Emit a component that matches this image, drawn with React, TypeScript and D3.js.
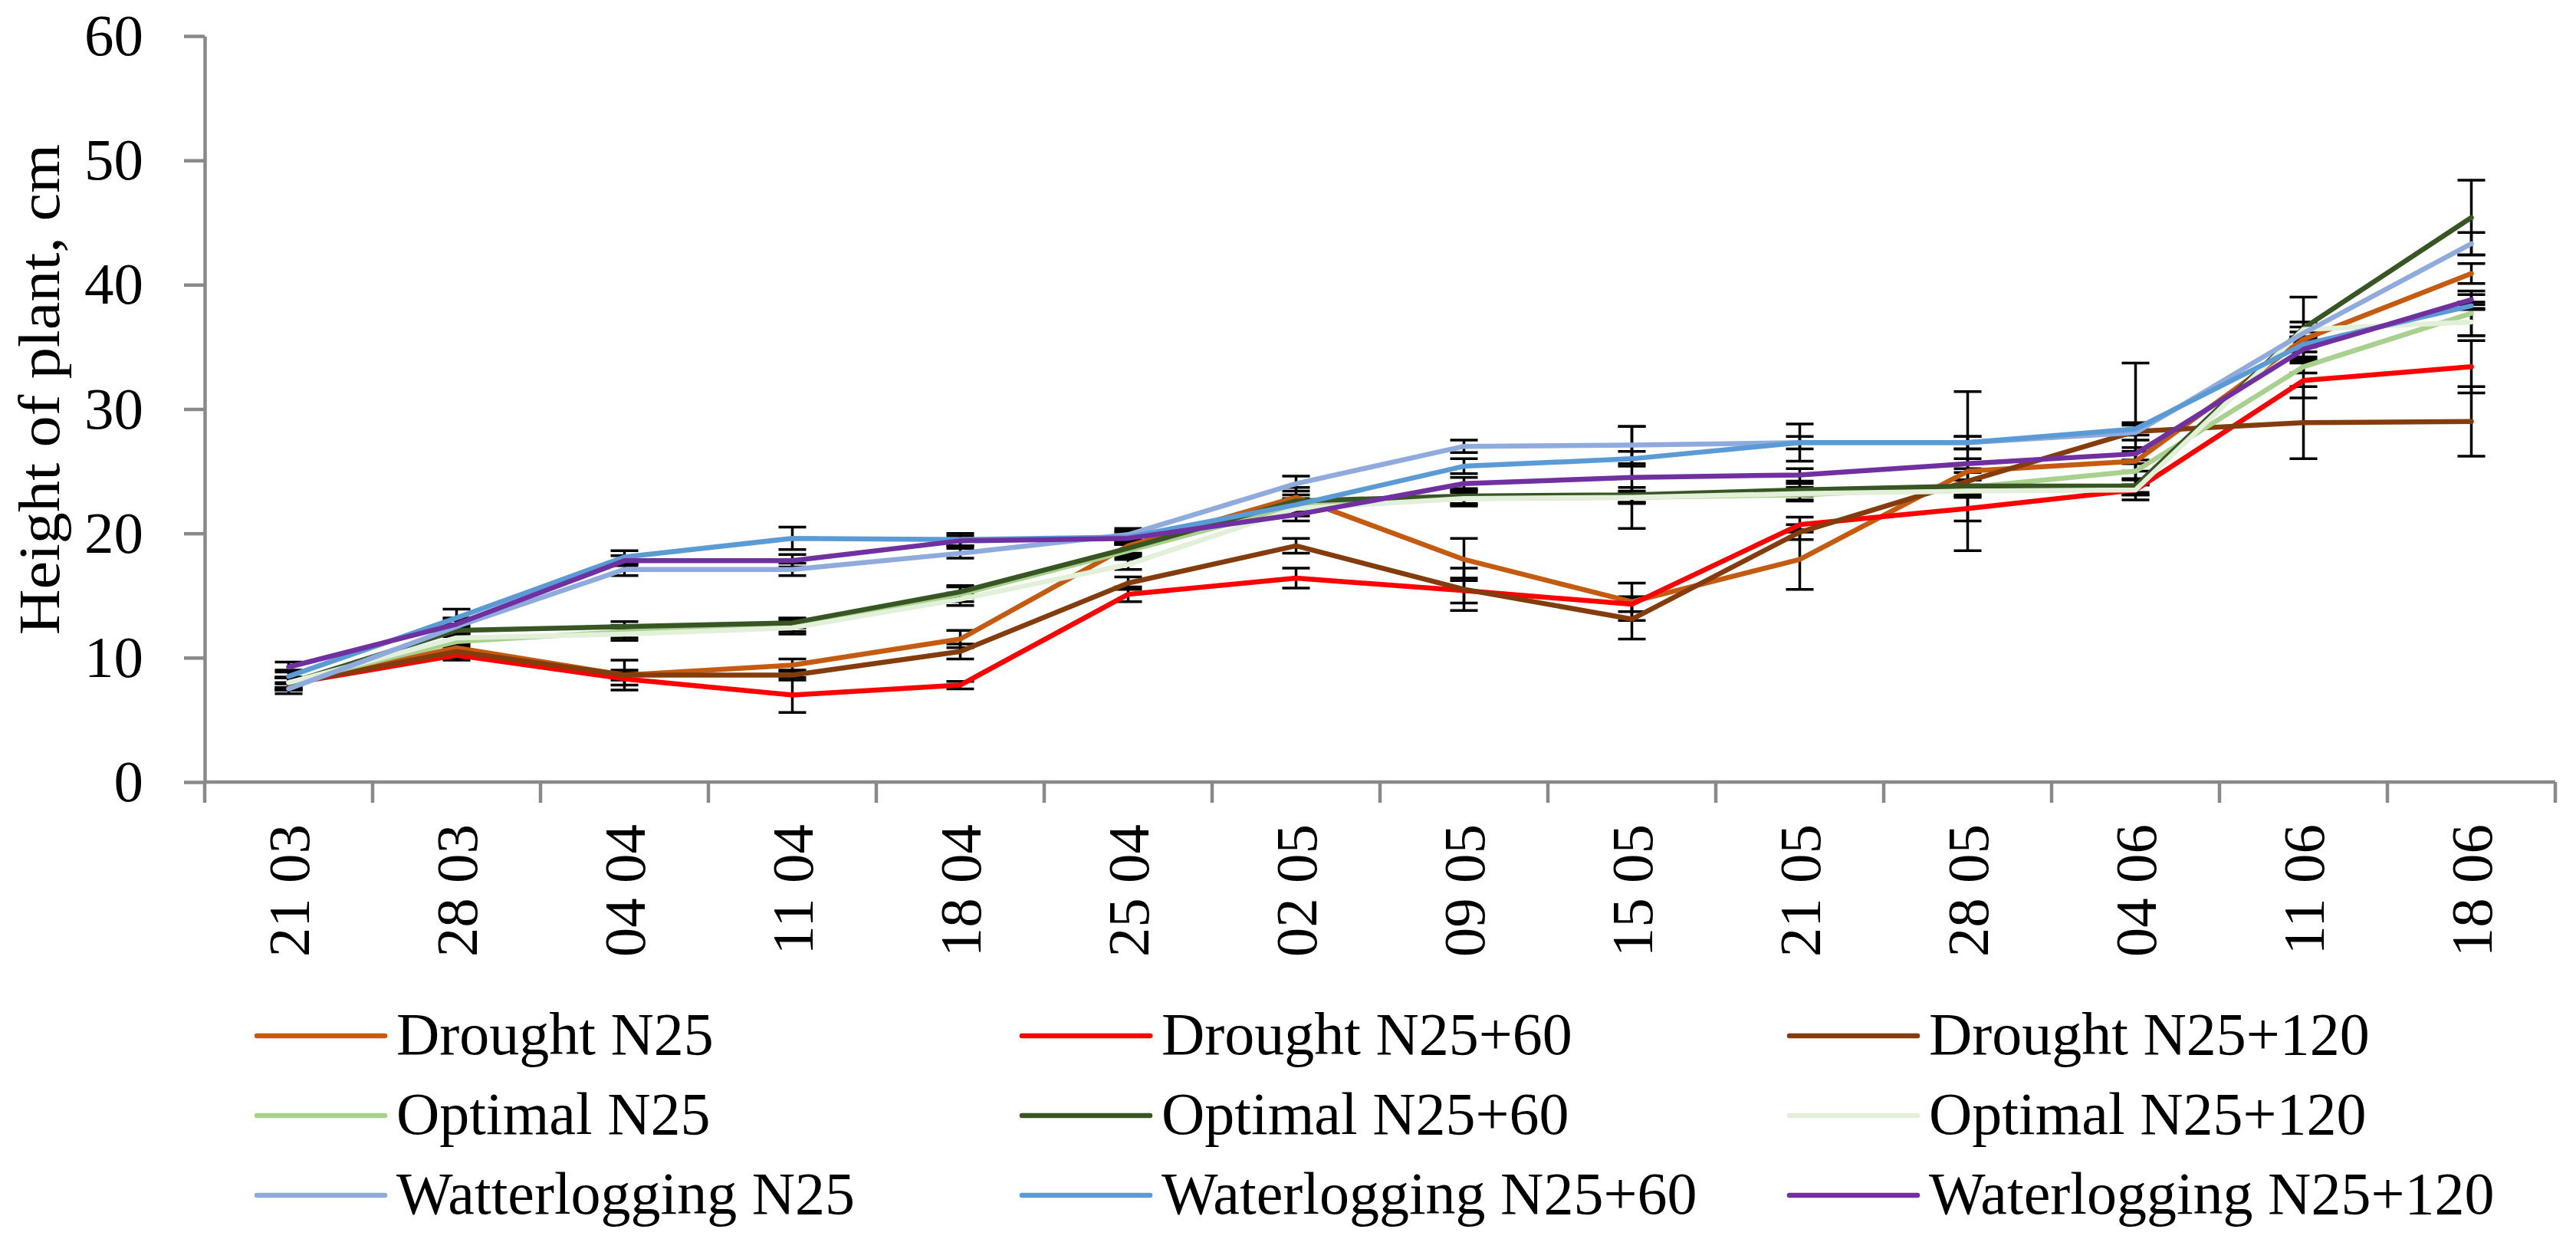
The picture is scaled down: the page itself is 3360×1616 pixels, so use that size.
import { useEffect, useRef } from "react";
import * as d3 from "d3";

const categories = [
  "21 03", "28 03", "04 04", "11 04", "18 04", "25 04", "02 05",
  "09 05", "15 05", "21 05", "28 05", "04 06", "11 06", "18 06",
];

const yTicks = [0, 10, 20, 30, 40, 50, 60];

const seriesNames = [
  "Drought N25", "Drought N25+60", "Drought N25+120",
  "Optimal N25", "Optimal N25+60", "Optimal N25+120",
  "Watterlogging N25", "Waterlogging N25+60", "Waterlogging N25+120",
];

const seriesColors = [
  "#C55A11", "#FF0000", "#843C0C",
  "#A9D18E", "#375623", "#E2F0D9",
  "#8FAADC", "#5B9BD5", "#7030A0",
];

// plant heights, cm
const droughtN25 = [7.9, 10.8, 8.6, 9.4, 11.5, 19.0, 22.9, 17.9, 14.5, 17.9, 25.0, 25.8, 35.6, 40.9];
const droughtN25_60 = [7.9, 10.2, 8.3, 7.0, 7.8, 15.1, 16.4, 15.4, 14.3, 20.7, 22.0, 23.5, 32.3, 33.4];
const droughtN25_120 = [7.9, 10.5, 8.6, 8.6, 10.5, 16.0, 19.0, 15.5, 13.1, 20.1, 24.2, 28.2, 28.9, 29.0];
const optimalN25 = [8.0, 11.3, 12.1, 12.6, 15.1, 18.6, 22.2, 22.8, 22.9, 23.1, 23.7, 25.0, 33.4, 37.7];
const optimalN25_60 = [7.95, 12.2, 12.5, 12.8, 15.3, 18.8, 22.6, 23.0, 23.1, 23.5, 23.8, 23.8, 36.5, 45.4];
const optimalN25_120 = [8.0, 11.6, 11.9, 12.4, 14.7, 17.5, 22.0, 22.8, 22.9, 23.2, 23.4, 23.5, 36.4, 37.0];
const waterN25 = [7.5, 12.5, 17.1, 17.1, 18.4, 19.9, 24.0, 27.0, 27.1, 27.3, 27.3, 28.1, 36.1, 43.3];
const waterN25_60 = [8.5, 13.2, 18.1, 19.6, 19.5, 19.7, 22.3, 25.4, 26.0, 27.3, 27.3, 28.4, 35.2, 38.3];
const waterN25_120 = [9.25, 12.7, 17.8, 17.8, 19.4, 19.6, 21.5, 24.0, 24.5, 24.7, 25.6, 26.4, 34.8, 38.8];

// error bar half-widths
const errDroughtN25 = [0.5, 0.6, 1.2, 0.5, 0.7, 0.6, 0.8, 1.7, 1.5, 2.4, 6.4, 0.8, 0.6, 0.8];
const errDroughtN25_60 = [0.5, 0.4, 0.5, 1.4, 0.3, 0.6, 0.8, 1.0, 0.6, 0.6, 1.0, 0.4, 1.4, 2.1];
const errDroughtN25_120 = [0.5, 0.5, 0.4, 0.4, 0.6, 0.5, 0.6, 1.7, 1.6, 0.6, 0.7, 5.5, 2.9, 2.8];
const errOptimalN25 = [0.4, 0.5, 0.5, 0.5, 0.6, 0.5, 0.5, 0.6, 0.5, 0.5, 0.6, 0.6, 0.5, 1.8];
const errOptimalN25_60 = [0.5, 0.5, 0.4, 0.4, 0.5, 0.5, 0.5, 0.6, 0.6, 0.5, 0.5, 0.5, 2.5, 3.0];
const errOptimalN25_120 = [0.4, 0.4, 0.5, 0.5, 0.5, 0.4, 0.6, 0.5, 0.4, 0.5, 0.5, 0.4, 0.6, 1.1];
const errWaterN25 = [0.4, 0.5, 0.5, 0.5, 0.4, 0.5, 0.6, 0.5, 1.5, 1.5, 0.5, 0.6, 0.5, 0.9];
const errWaterN25_60 = [0.5, 0.7, 0.5, 0.9, 0.5, 0.5, 0.5, 0.6, 0.6, 0.5, 0.5, 0.5, 0.6, 0.3];
const errWaterN25_120 = [0.4, 0.5, 0.4, 0.5, 0.4, 0.5, 0.5, 0.5, 4.1, 0.5, 0.4, 0.5, 0.6, 0.4];

const seriesValues = [
  droughtN25, droughtN25_60, droughtN25_120,
  optimalN25, optimalN25_60, optimalN25_120,
  waterN25, waterN25_60, waterN25_120,
];
const seriesErrors = [
  errDroughtN25, errDroughtN25_60, errDroughtN25_120,
  errOptimalN25, errOptimalN25_60, errOptimalN25_120,
  errWaterN25, errWaterN25_60, errWaterN25_120,
];

const FONT = "'Palatino Linotype', 'Book Antiqua', Palatino, 'Liberation Serif', serif";
const AXIS = "#898989";

export default function App() {
  const ref = useRef<SVGSVGElement>(null);

  useEffect(() => {
    const width = 3360;
    const height = 1616;
    const svg = d3.select(ref.current).attr("width", width).attr("height", height);
    svg.selectAll("*").remove();

    const left = 267;
    const right = 3333;
    const top = 47;
    const bottom = 1020;

    const x = d3.scaleBand().domain(categories).range([left, right]).padding(0);
    const y = d3.scaleLinear().domain([0, 60]).range([bottom, top]);
    const cx = (c: string) => x(c)! + x.bandwidth() / 2;

    svg.append("rect").attr("width", width).attr("height", height).attr("fill", "#fff");

    // Y axis
    const yAxis = svg
      .append("g")
      .attr("transform", `translate(${left},0)`)
      .call(d3.axisLeft(y).tickValues(yTicks).tickSizeInner(27).tickSizeOuter(0).tickPadding(53));
    yAxis.select(".domain").attr("stroke", AXIS).attr("stroke-width", 4.5);
    yAxis.selectAll(".tick line").attr("stroke", AXIS).attr("stroke-width", 4.5);
    yAxis
      .selectAll(".tick text")
      .attr("fill", "#000")
      .style("font-family", FONT)
      .style("font-size", "77px");

    // X axis: line with ticks at category boundaries
    const xg = svg.append("g");
    xg.append("line")
      .attr("x1", left).attr("x2", right)
      .attr("y1", bottom).attr("y2", bottom)
      .attr("stroke", AXIS).attr("stroke-width", 4.5);
    const bounds = categories.map((c) => x(c)!).concat([right]);
    xg.selectAll(".xtick")
      .data(bounds)
      .enter()
      .append("line")
      .attr("x1", (d) => d).attr("x2", (d) => d)
      .attr("y1", bottom).attr("y2", bottom + 27)
      .attr("stroke", AXIS).attr("stroke-width", 4.5);
    xg.selectAll(".xlabel")
      .data(categories)
      .enter()
      .append("text")
      .attr("transform", (d) => `translate(${cx(d)},${bottom + 55}) rotate(-90)`)
      .attr("text-anchor", "end")
      .attr("dy", "0.35em")
      .style("font-family", FONT)
      .style("font-size", "77px")
      .text((d) => d);

    // Y axis title
    svg
      .append("text")
      .attr("transform", `translate(77,508) rotate(-90)`)
      .attr("text-anchor", "middle")
      .attr("textLength", 640)
      .attr("lengthAdjust", "spacingAndGlyphs")
      .style("font-family", FONT)
      .style("font-size", "77px")
      .text("Height of plant, cm");

    // Error bars
    const eg = svg.append("g").attr("stroke", "#000").attr("stroke-width", 3.5);
    seriesValues.forEach((vals, si) => {
      vals.forEach((v, i) => {
        const e = seriesErrors[si][i];
        const px = cx(categories[i]);
        eg.append("line").attr("x1", px).attr("x2", px).attr("y1", y(v - e)).attr("y2", y(v + e));
        eg.append("line").attr("x1", px - 18).attr("x2", px + 18).attr("y1", y(v - e)).attr("y2", y(v - e));
        eg.append("line").attr("x1", px - 18).attr("x2", px + 18).attr("y1", y(v + e)).attr("y2", y(v + e));
      });
    });

    // Lines
    const line = d3
      .line<number>()
      .x((_, i) => cx(categories[i]))
      .y((d) => y(d));
    seriesValues.forEach((vals, si) => {
      svg
        .append("path")
        .datum(vals)
        .attr("d", line)
        .attr("fill", "none")
        .attr("stroke", seriesColors[si])
        .attr("stroke-width", 6.5)
        .attr("stroke-linejoin", "round")
        .attr("stroke-linecap", "round");
    });

    // Legend, 3 columns x 3 rows
    const colX = [335, 1333, 2334];
    const rowY = [1351, 1455, 1559];
    const lg = svg.append("g");
    seriesNames.forEach((name, i) => {
      const lx = colX[i % 3];
      const ly = rowY[Math.floor(i / 3)];
      lg.append("line")
        .attr("x1", lx).attr("x2", lx + 167)
        .attr("y1", ly).attr("y2", ly)
        .attr("stroke", seriesColors[i])
        .attr("stroke-width", 6.5)
        .attr("stroke-linecap", "round");
      lg.append("text")
        .attr("x", lx + 182)
        .attr("y", ly + 24)
        .style("font-family", FONT)
        .style("font-size", "78px")
        .text(name);
    });
  }, []);

  return (
    <svg
      ref={ref}
      style={{ position: "absolute", left: 0, top: 0, display: "block" }}
    />
  );
}
